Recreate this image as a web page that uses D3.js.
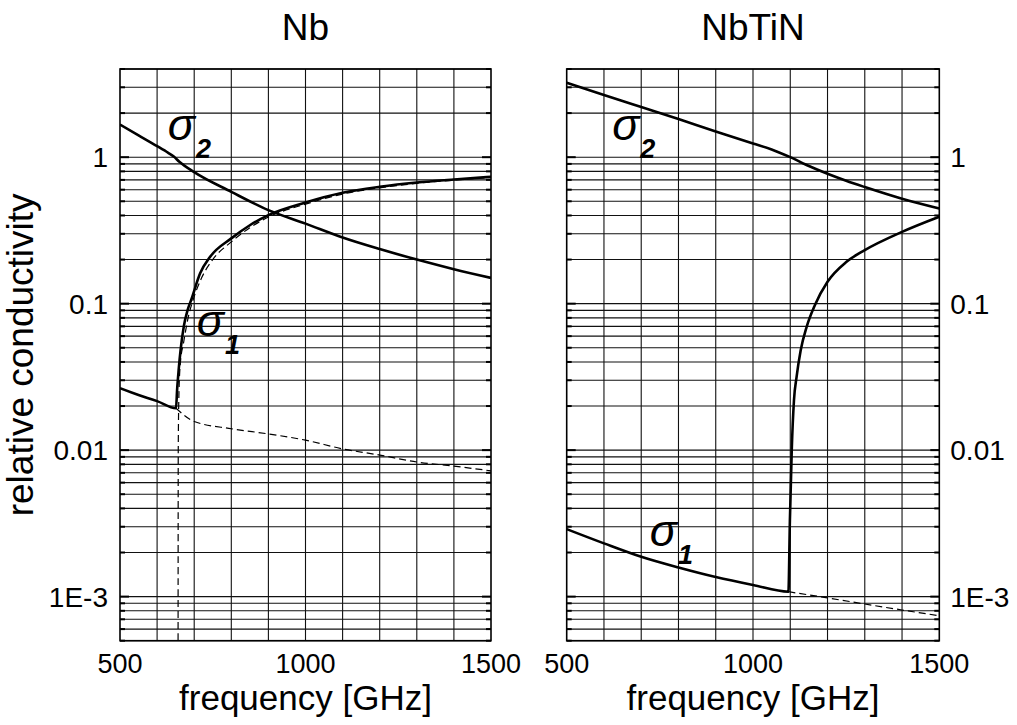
<!DOCTYPE html>
<html>
<head>
<meta charset="utf-8">
<script src="https://cdn.jsdelivr.net/npm/d3@7/dist/d3.min.js"></script>
<style>
  body { margin: 0; background: #fff; }
  svg text { font-family: "Liberation Sans", Arial, Helvetica, sans-serif; fill: #000; }
</style>
</head>
<body>
<svg id="chart" width="1017" height="725"></svg>
<script>
'use strict';

// tick labels
var xTicks = [500, 1000, 1500];
var yTicks = [1, 0.1, 0.01, 0.001];
var yTickLabels = ['1', '0.1', '0.01', '1E-3'];

// Nb panel [GHz, relative conductivity]
var nbSigma2 = [[500, 1.67], [550, 1.41], [600, 1.19], [630, 1.07], [645, 1.01], [660, 0.93],
  [700, 0.79], [800, 0.58], [900, 0.435], [1000, 0.352], [1100, 0.283], [1200, 0.236],
  [1300, 0.2], [1400, 0.172], [1500, 0.15]];
var nbSigma1 = [[500, 0.0265], [550, 0.0238], [600, 0.0216], [651, 0.0193], [654, 0.026],
  [658, 0.035], [664, 0.05], [672, 0.07], [682, 0.09], [693, 0.108], [716, 0.161],
  [743, 0.209], [800, 0.279], [850, 0.343], [900, 0.402], [1000, 0.49], [1100, 0.571],
  [1200, 0.627], [1300, 0.671], [1400, 0.704], [1500, 0.734]];
var nbThermal = [[651, 0.0193], [700, 0.0157], [800, 0.014], [900, 0.0129], [1000, 0.0117],
  [1100, 0.0102], [1200, 0.00925], [1300, 0.0083], [1400, 0.00778], [1500, 0.00722]];
var nbPairs = [[656.5, 0.0003], [657, 0.01], [659, 0.025], [663, 0.04], [671, 0.0535],
  [684, 0.081], [697, 0.106], [720, 0.15], [750, 0.2], [800, 0.264], [850, 0.33],
  [900, 0.39], [1000, 0.478], [1100, 0.56], [1200, 0.618], [1300, 0.663], [1400, 0.697],
  [1500, 0.727]];

// NbTiN panel
var nbtinSigma2 = [[500, 3.22], [600, 2.66], [700, 2.2], [800, 1.82], [900, 1.5], [1000, 1.24],
  [1050, 1.13], [1100, 1.0], [1150, 0.87], [1200, 0.77], [1250, 0.69], [1300, 0.625],
  [1400, 0.52], [1500, 0.446]];
var nbtinSigma1 = [[500, 0.00289], [600, 0.00231], [700, 0.00187], [800, 0.00158], [900, 0.00136],
  [1000, 0.0012], [1095, 0.00108], [1099, 0.0033], [1104, 0.01], [1110, 0.022], [1117, 0.0316],
  [1128, 0.048], [1144, 0.0695], [1166, 0.0977], [1200, 0.141], [1251, 0.193], [1300, 0.232],
  [1400, 0.309], [1500, 0.392]];
var nbtinThermal = [[1095, 0.00108], [1200, 0.00098], [1300, 0.00089], [1400, 0.00081],
  [1500, 0.00074]];

var panels = [
  { title: 'Nb', left: 120, right: 491, labelSide: 'left',
    solid: [nbSigma2, nbSigma1], dashed: [nbThermal, nbPairs],
    notes: [{ sub: '2', f: 629, v: 1.3 }, { sub: '1', f: 707, v: 0.06 }] },
  { title: 'NbTiN', left: 566.7, right: 939.3, labelSide: 'right',
    solid: [nbtinSigma2, nbtinSigma1], dashed: [nbtinThermal],
    notes: [{ sub: '2', f: 622, v: 1.3 }, { sub: '1', f: 723, v: 0.0022 }] }
];

var plotTop = 69, plotBottom = 640.7;
var svg = d3.select('#chart');

var y = d3.scaleLog().domain([5e-4, 4]).range([plotBottom, plotTop]);

panels.forEach(function (p, i) {
  var x = d3.scaleLinear().domain([500, 1500]).range([p.left, p.right]);
  var g = svg.append('g');

  svg.append('clipPath').attr('id', 'clip' + i)
    .append('rect')
    .attr('x', p.left).attr('y', plotTop)
    .attr('width', p.right - p.left).attr('height', plotBottom - plotTop);

  // grid
  g.selectAll('line.vgrid')
    .data(d3.range(600, 1500, 100))
    .enter().append('line')
    .attr('x1', function (d) { return x(d); })
    .attr('x2', function (d) { return x(d); })
    .attr('y1', plotTop).attr('y2', plotBottom)
    .attr('stroke', '#111').attr('stroke-width', 1.1);

  g.selectAll('line.hgrid')
    .data(y.ticks())
    .enter().append('line')
    .attr('x1', p.left).attr('x2', p.right)
    .attr('y1', function (d) { return y(d); })
    .attr('y2', function (d) { return y(d); })
    .attr('stroke', '#111').attr('stroke-width', 1.1);

  // little inner ticks on both sides
  y.ticks().forEach(function (d) {
    var len = yTicks.indexOf(d) >= 0 ? 9 : 5;
    g.append('line').attr('x1', p.left).attr('x2', p.left + len)
      .attr('y1', y(d)).attr('y2', y(d)).attr('stroke', '#000').attr('stroke-width', 2);
    g.append('line').attr('x1', p.right - len).attr('x2', p.right)
      .attr('y1', y(d)).attr('y2', y(d)).attr('stroke', '#000').attr('stroke-width', 2);
  });

  // frame
  g.append('rect')
    .attr('x', p.left).attr('y', plotTop)
    .attr('width', p.right - p.left).attr('height', plotBottom - plotTop)
    .attr('fill', 'none').attr('stroke', '#000').attr('stroke-width', 1.6);

  var line = d3.line()
    .x(function (d) { return x(d[0]); })
    .y(function (d) { return y(d[1]); })
    .curve(d3.curveMonotoneX);

  var curves = g.append('g').attr('clip-path', 'url(#clip' + i + ')');

  curves.selectAll('path.dash')
    .data(p.dashed)
    .enter().append('path')
    .attr('d', line)
    .attr('fill', 'none')
    .attr('stroke', '#000')
    .attr('stroke-width', 1.2)
    .attr('stroke-dasharray', '7,4');

  curves.selectAll('path.solid')
    .data(p.solid)
    .enter().append('path')
    .attr('d', line)
    .attr('fill', 'none')
    .attr('stroke', '#000')
    .attr('stroke-width', 2.6)
    .attr('stroke-linejoin', 'round');

  // sigma labels
  p.notes.forEach(function (n) {
    var t = g.append('text')
      .attr('x', x(n.f)).attr('y', y(n.v))
      .style('font-style', 'italic')
      .style('font-size', '45px');
    t.append('tspan').text('σ');
    t.append('tspan')
      .attr('dx', 1).attr('dy', 18)
      .style('font-size', '27px')
      .style('font-weight', 'bold')
      .text(n.sub);
  });

  // x tick labels
  g.selectAll('text.xt')
    .data(xTicks)
    .enter().append('text')
    .attr('x', function (d) { return x(d); })
    .attr('y', 673)
    .attr('text-anchor', 'middle')
    .style('font-size', '27px')
    .text(function (d) { return d; });

  // y tick labels
  g.selectAll('text.yt')
    .data(yTicks)
    .enter().append('text')
    .attr('x', p.labelSide === 'left' ? p.left - 12 : p.right + 11)
    .attr('y', function (d) { return y(d); })
    .attr('dy', '0.36em')
    .attr('text-anchor', p.labelSide === 'left' ? 'end' : 'start')
    .style('font-size', '28px')
    .text(function (d, j) { return yTickLabels[j]; });

  g.append('text')
    .attr('x', (p.left + p.right) / 2).attr('y', 40)
    .attr('text-anchor', 'middle')
    .style('font-size', '37px')
    .text(p.title);

  g.append('text')
    .attr('x', (p.left + p.right) / 2).attr('y', 710)
    .attr('text-anchor', 'middle')
    .style('font-size', '35px')
    .text('frequency [GHz]');
});

svg.append('text')
  .attr('transform', 'translate(33,' + (plotTop + plotBottom) / 2 + ') rotate(-90)')
  .attr('text-anchor', 'middle')
  .style('font-size', '37px')
  .text('relative conductivity');
</script>
</body>
</html>
